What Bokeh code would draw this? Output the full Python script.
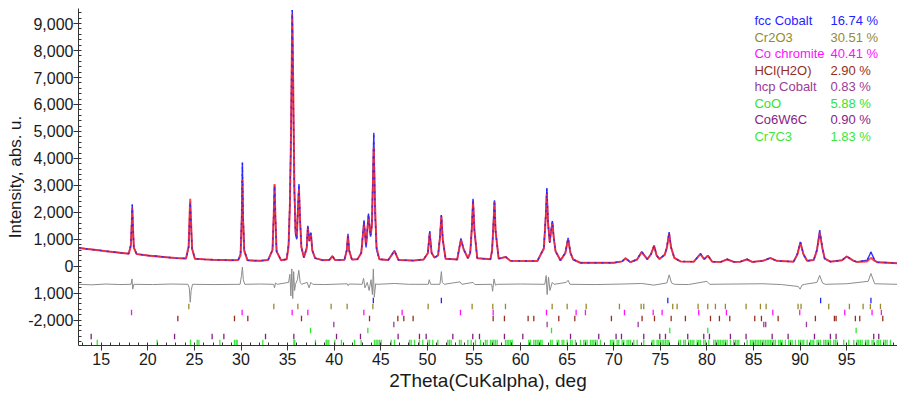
from bokeh.plotting import figure
from bokeh.models import Range1d, FixedTicker, NumeralTickFormatter, ColumnDataSource
from bokeh.embed import file_html
from bokeh.resources import INLINE
from bokeh.core.properties import value

# ---------------- data ----------------
tth = [12.6, 13.5, 14.5, 15.5, 16.5, 17.5,
       17.95, 18.18, 18.28, 18.33, 18.40, 18.50, 18.80,
       20.0, 21.0, 22.0, 23.0,
       24.10, 24.38, 24.48, 24.55, 24.63, 24.75, 25.05,
       26.0, 27.0, 28.0, 29.0, 29.7,
       29.95, 30.07, 30.15, 30.22, 30.35, 30.7,
       32.0, 32.9, 33.38, 33.52, 33.6, 33.68, 33.82, 34.3, 34.9,
       35.10, 35.25, 35.37, 35.50, 35.60, 35.72, 35.85, 35.98, 36.12, 36.22, 36.32, 36.48, 36.75, 37.05, 37.17, 37.33, 37.50, 37.65, 37.95,
       38.8, 39.5, 39.8, 40.1, 41.1, 41.35, 41.48, 41.6, 41.9,
       42.5, 42.9, 43.2, 43.42, 43.68, 43.9, 44.05, 44.25, 44.38, 44.55, 44.85, 45.8, 46.47, 46.9,
       48.5, 49.6, 50.05, 50.25, 50.45, 50.75, 51.15, 51.35, 51.5, 51.65, 51.95,
       53.2, 53.6, 53.9, 54.35, 54.6, 54.78, 54.9, 55.05, 55.35, 56.77, 56.95, 57.1, 57.2, 57.32, 57.65, 58.4, 58.9,
       61.8, 62.5, 62.72, 62.82, 62.95, 63.13, 63.3, 63.42, 63.55, 63.75, 64.28, 64.8, 65.1, 65.35, 65.64, 66.4,
       70.0, 70.9, 71.25, 71.8, 72.5, 73.0, 73.6, 74.0, 74.33, 74.6, 74.9, 75.47, 75.7, 75.94, 76.15, 76.5, 77.16,
       78.6, 79.3, 79.7, 80.1, 80.56, 81.5, 82.17, 82.88, 83.6, 84.3, 84.85, 86.0, 86.8, 87.5,
       89.3, 89.7, 90.03, 90.35, 90.75, 91.46, 91.8, 92.1, 92.4, 92.64, 93.25, 94.5, 95.0, 95.75, 96.1, 97.2, 97.6, 98.0, 98.26, 99.5, 100.4]

i_obs = [690, 640, 600, 560, 520, 480,
         470, 800, 1700, 2290, 1500, 700, 450,
         400, 370, 335, 300,
         285, 700, 1700, 2380, 1600, 650, 280,
         255, 240, 230, 220, 230,
         450, 1800, 3850, 1900, 600, 220,
         200, 230, 600, 2000, 3000, 1900, 550, 220, 260,
         800, 2400, 5000, 9500, 6500, 2800, 1200, 1000, 2300, 3050, 1900, 700, 320, 700, 1500, 930, 1250, 600, 300,
         220, 240, 380, 230, 240, 600, 1200, 600, 250,
         260, 500, 1700, 700, 1950, 1100, 1600, 4950, 2000, 600, 260, 230, 580, 230,
         210, 250, 500, 1300, 500, 320, 400, 1100, 1900, 1000, 280,
         250, 1020, 620, 300, 500, 1500, 2500, 1300, 300, 260, 600, 1700, 2450, 1300, 280, 350, 200,
         190, 680, 2000, 2900, 1600, 870, 1400, 1680, 1100, 560, 220, 500, 1050, 500, 250, 130,
         130, 180, 300, 150, 250, 540, 260, 450, 770, 400, 270, 430, 700, 1270, 700, 310, 180,
         170, 470, 260, 400, 170, 160, 260, 160, 170, 260, 160, 200, 310, 200,
         170, 450, 905, 450, 200, 230, 600, 1330, 650, 280, 170, 220, 370, 200, 160, 220, 530, 220, 150, 130, 110]

i_calc = [670, 640, 600, 555, 520, 485,
          465, 750, 1600, 2150, 1450, 680, 450,
          400, 365, 330, 305,
          285, 750, 1900, 2500, 1700, 650, 280,
          255, 240, 230, 220, 230,
          400, 1500, 3200, 1700, 550, 220,
          200, 230, 600, 2000, 3050, 1950, 550, 220, 260,
          700, 2300, 5000, 9350, 6800, 3200, 1300, 1050, 2100, 2850, 1800, 700, 330, 650, 1420, 950, 1200, 580, 300,
          220, 240, 370, 230, 240, 580, 1150, 580, 250,
          260, 480, 1550, 750, 1850, 1150, 1500, 4400, 2300, 700, 260, 230, 560, 230,
          210, 250, 480, 1200, 500, 320, 400, 1050, 1850, 1000, 280,
          250, 980, 620, 300, 500, 1450, 2400, 1350, 300, 260, 600, 1600, 2400, 1300, 280, 340, 200,
          190, 650, 1900, 2700, 1600, 900, 1350, 1600, 1100, 560, 220, 480, 1000, 500, 250, 130,
          130, 180, 290, 150, 250, 520, 260, 450, 760, 400, 270, 420, 680, 1200, 700, 310, 180,
          170, 450, 260, 390, 170, 160, 250, 160, 170, 250, 160, 200, 300, 200,
          170, 430, 880, 450, 200, 230, 580, 1240, 650, 280, 170, 220, 360, 200, 160, 180, 310, 200, 150, 130, 110]

diff_x = [12.6, 14.0, 15.5, 17.0, 18.2, 18.3, 18.38, 18.5, 20.5, 22.5, 24.3, 24.45, 24.55, 24.65, 24.8,
          27.0, 29.9, 30.05, 30.15, 30.25, 30.4, 32.0, 33.5, 33.6, 33.7, 33.9,
          35.1, 35.25, 35.35, 35.45, 35.55, 35.65, 35.75, 35.85, 36.05, 36.2, 36.35, 36.5, 37.1, 37.3, 37.5, 37.7,
          39.0, 41.4, 41.5, 41.6, 43.0, 43.15, 43.3, 43.55, 43.75, 43.95, 44.1, 44.2, 44.3, 44.45, 44.6,
          46.5, 48.0, 50.1, 50.2, 50.35, 51.35, 51.5, 51.6, 51.8, 53.5, 53.7, 54.9, 55.1,
          56.9, 57.0, 57.15, 57.3, 57.5, 60.0, 62.6, 62.75, 62.85, 63.0, 63.15, 63.4, 63.6, 64.9, 65.1, 65.3,
          68.0, 71.0, 73.0, 74.3, 75.7, 75.95, 76.2, 76.5, 78.0, 80.0, 80.3, 83.0, 86.0, 88.0,
          89.8, 90.0, 90.2, 90.5, 91.8, 92.1, 92.4, 92.7, 95.0, 97.3, 97.6, 98.0, 100.4]
diff_y = [-670, -690, -660, -680, -670, -470, -850, -670, -680, -660, -670, -800, -1335, -900, -670,
          -680, -670, -350, -30, -500, -670, -660, -670, -800, -620, -670,
          -600, -300, -1100, -100, -1200, -200, -900, -670, -500, -150, -600, -670, -600, -800, -600, -670,
          -680, -650, -720, -660, -670, -450, -800, -600, -900, -500, -1050, -100, -1150, -650, -670,
          -640, -670, -670, -500, -670, -670, -200, -600, -670, -580, -670, -600, -680,
          -670, -930, -470, -700, -670, -660, -670, -345, -1050, -400, -900, -600, -670, -600, -520, -670,
          -680, -660, -640, -700, -620, -320, -620, -670, -680, -560, -670, -660, -650, -680,
          -750, -850, -700, -670, -600, -340, -620, -670, -650, -560, -270, -650, -670]

phases = ["fcc Cobalt", "Cr2O3", "Co chromite", "HCl(H2O)", "hcp Cobalt", "CoO", "Co6W6C", "Cr7C3"]
weight_pct = [16.74, 30.51, 40.41, 2.90, 0.83, 5.88, 0.90, 1.83]

fcc_co = [44.2, 51.5, 75.8, 92.2, 97.6]
cr2o3 = [24.40, 33.52, 36.10, 39.67, 41.39, 44.15, 50.08, 54.80, 57.02, 58.38, 63.39, 65.00, 67.04, 70.61,
         72.94, 73.22, 76.33, 76.80, 79.05, 80.09, 80.91, 81.98, 84.20, 85.74, 86.35, 89.78, 90.10, 93.07,
         95.29, 96.76, 97.54, 98.62]
co_chromite = [18.25, 30.12, 35.49, 37.17, 43.18, 47.29, 53.55, 57.06, 62.78, 65.96, 66.96, 71.15, 74.23,
               75.19, 79.12, 82.09, 87.07, 89.96, 94.79, 97.72, 98.72]
hcl_h2o = [23.22, 29.30, 30.73, 36.49, 43.79, 46.83, 47.47, 48.47, 57.06, 58.27, 60.81, 61.42, 64.10, 65.82,
           69.75, 73.04, 74.37, 76.16, 77.69, 80.38, 81.34, 82.45, 85.13, 85.85, 87.64, 91.64, 93.68, 93.86,
           95.93, 96.40, 98.87]
hcp_co = [39.96, 46.40, 62.85, 72.62, 86.10, 86.31, 90.68]
coo = [37.46, 43.61, 63.32, 76.01, 80.09, 96.01]
co6w6c = [13.92, 22.87, 26.90, 28.16, 32.63, 35.67, 40.25, 42.82, 46.86, 49.15, 49.87, 52.73, 54.87, 55.59,
          58.27, 60.24, 65.36, 68.39, 70.25, 70.83, 73.22, 74.94, 75.55, 77.94, 79.66, 80.27, 82.52, 84.20,
          87.00, 88.71, 91.54, 93.25, 93.86, 97.90, 98.44]
cr7c3 = [14.57, 21.00, 24.58, 25.30, 25.48, 27.73, 29.30, 29.48, 29.59, 32.34, 35.67, 35.77, 37.99, 39.14,
         39.24, 39.42, 40.07, 40.78, 42.18, 42.89, 44.32, 44.50, 44.68, 44.86, 45.04, 46.11, 46.47, 48.08,
         48.26, 48.62, 49.15, 49.51, 50.05, 50.23, 50.58, 51.12, 52.19, 52.37, 52.55, 53.44, 53.62, 54.34,
         54.70, 55.16, 55.70, 56.23, 56.41, 56.77, 56.95, 57.13, 57.31, 57.49, 58.38, 58.56, 58.74, 58.92,
         59.10, 60.88, 61.06, 61.42, 61.60, 61.78, 61.96, 62.14, 62.31, 63.21, 63.39, 63.92, 64.10, 64.46,
         64.64, 65.00, 65.36, 65.53, 65.89, 66.43, 66.79, 66.96, 67.14, 67.50, 67.68, 67.86, 68.04, 68.22,
         68.57, 69.65, 69.82, 70.00, 70.36, 70.54, 70.90, 71.08, 71.43, 71.61, 71.79, 72.15, 72.51, 73.22,
         74.12, 74.30, 74.65, 74.83, 75.01, 75.19, 75.37, 75.55, 75.73, 75.91, 76.98, 77.16, 77.51, 77.69,
         78.05, 78.23, 78.41, 78.59, 78.95, 79.12, 79.30, 79.66, 79.84, 80.20, 80.73, 80.91, 81.09, 81.27,
         81.45, 81.63, 81.81, 81.98, 82.16, 82.52, 82.88, 83.06, 83.24, 83.42, 84.31, 84.67, 84.85, 85.03,
         85.20, 85.38, 85.56, 85.74, 85.92, 86.10, 86.28, 86.46, 86.64, 86.81, 86.99, 87.17, 87.35, 87.71,
         87.89, 88.07, 88.42, 88.78, 88.96, 89.14, 89.50, 89.85, 90.03, 90.21, 90.39, 90.75, 91.11, 91.28,
         91.46, 91.82, 92.00, 92.18, 92.54, 92.72, 92.89, 93.07, 93.25, 93.61, 93.79, 93.97, 94.68, 95.22,
         95.76, 96.11, 96.29, 96.47, 96.65, 97.01, 97.19, 97.36, 97.72, 97.90, 98.26, 98.44, 98.62, 98.97,
         99.15, 99.33, 99.69]

x_ticks = [15, 20, 25, 30, 35, 40, 45, 50, 55, 60, 65, 70, 75, 80, 85, 90, 95]
y_ticks = [-2000, -1000, 0, 1000, 2000, 3000, 4000, 5000, 6000, 7000, 8000, 9000]

# ---------------- styling ----------------
phase_colors = ["#2424ff", "#968a2c", "#ff10ff", "#962e1e", "#9a3c9a", "#2ee62e", "#861e86", "#3ce63c"]
reflections = [fcc_co, cr2o3, co_chromite, hcl_h2o, hcp_co, coo, co6w6c, cr7c3]
FONT = "Liberation Sans"

p = figure(width=897, height=395, output_backend="svg", toolbar_location=None,
           x_range=Range1d(12.56, 100.45), y_range=Range1d(-2940, 9560),
           min_border_left=78, min_border_right=0, min_border_top=8, min_border_bottom=50)
p.outline_line_color = None
p.grid.visible = False
p.background_fill_color = "white"
p.border_fill_color = "white"

# curves: observed (blue), calculated (red, translucent), observed points dashed on top
p.line(tth, i_obs, line_color="#3030ff", line_width=1.4)
p.line(tth, i_calc, line_color="#ff2a2a", line_width=2.0, line_alpha=0.85)
p.line(tth, i_obs, line_color="#2020ff", line_width=1.4, line_alpha=0.8, line_dash="2 5")
p.line(diff_x, diff_y, line_color="#8c8c8c", line_width=1.0)

# reflection ticks
row_top = -1272
row_step = 222.6
half_h = 100
for k, (pos, col) in enumerate(zip(reflections, phase_colors)):
    c = row_top - k * row_step
    p.segment(x0=pos, y0=[c - half_h] * len(pos), x1=pos, y1=[c + half_h] * len(pos),
              line_color=col, line_width=1.3)

# phase legend as text
leg_y0 = 9113
leg_step = 612
src = ColumnDataSource(dict(
    name=phases,
    pct=[f"{v:.2f} %" for v in weight_pct],
    y=[leg_y0 - k * leg_step for k in range(len(phases))],
    color=phase_colors,
))
p.text(x=85.1, y="y", text="name", source=src, text_color="color",
       text_font=value(FONT), text_font_size="13px", text_baseline="middle", text_align="left")
p.text(x=93.25, y="y", text="pct", source=src, text_color="color",
       text_font=value(FONT), text_font_size="13px", text_baseline="middle", text_align="left")

# axes
xa = p.xaxis[0]
ya = p.yaxis[0]
xa.ticker = FixedTicker(ticks=x_ticks, minor_ticks=[v for v in range(13, 101)])
ya.ticker = FixedTicker(ticks=y_ticks, minor_ticks=[v for v in range(-2800, 9600, 200)])
ya.formatter = NumeralTickFormatter(format="0,0")
ya.major_label_overrides = {-1000: "1,000"}
xa.axis_label = "2Theta(CuKalpha), deg"
ya.axis_label = "Intensity, abs. u."
for ax, lab_size in ((xa, "19px"), (ya, "17px")):
    ax.axis_line_color = "#333333"
    ax.major_tick_line_color = "#333333"
    ax.minor_tick_line_color = "#333333"
    ax.major_tick_out = 5
    ax.major_tick_in = 0
    ax.minor_tick_out = 0
    ax.minor_tick_in = 3
    ax.major_label_text_font = FONT
    ax.major_label_text_font_size = "16px"
    ax.major_label_text_color = "#1a1a1a"
    ax.axis_label_text_font = FONT
    ax.axis_label_text_font_size = lab_size
    ax.axis_label_text_font_style = "normal"
    ax.axis_label_text_color = "#1a1a1a"
xa.major_label_standoff = 2
xa.axis_label_standoff = 2
ya.major_label_standoff = 0
ya.axis_label_standoff = 0

open("out.html", "w").write(file_html(p, INLINE))
